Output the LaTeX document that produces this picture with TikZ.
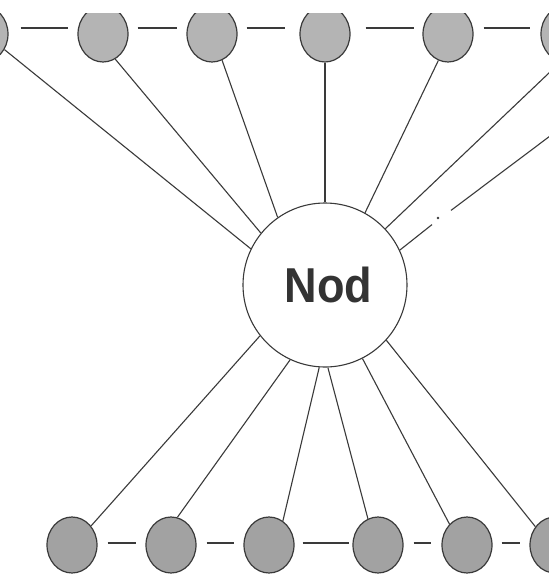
\documentclass[tikz,border=0pt]{standalone}
\usepackage{fontspec}
\setmainfont{Liberation Sans}
\usetikzlibrary{shapes.geometric,calc}
\definecolor{ink}{HTML}{3A3A3A}
\definecolor{labelink}{HTML}{333333}
\definecolor{topfill}{HTML}{B4B4B4}
\definecolor{botfill}{HTML}{A2A2A2}
\begin{document}
\begin{tikzpicture}[x=1pt,y=-1pt,
  leaf/.style={ellipse,draw=ink,line width=1.2pt,minimum width=50pt,minimum height=56pt,inner sep=0pt},
  topleaf/.style={leaf,fill=topfill},
  botleaf/.style={leaf,fill=botfill},
  hub/.style={circle,draw=ink,line width=1.1pt,minimum size=164pt,inner sep=0pt,fill=white},
  spoke/.style={draw=ink,line width=1.1pt},
  chain/.style={draw=ink,line width=1.8pt}]
\useasboundingbox (0,0) rectangle (549,574);
\fill[white] (0,0) rectangle (549,574);
\begin{scope}
\clip (0,13) rectangle (549,574);
% hub
\node[hub] (c) at (325,285) {};
\node[font=\bfseries\fontsize{49}{49}\selectfont,text=labelink,anchor=base,inner sep=0pt] (lbl) at (328.5,302) {\scalebox{0.92}[1]{Nod}};
% top row
\node[topleaf] (T0) at (-17,34) {};
\node[topleaf] (T1) at (103,34) {};
\node[topleaf] (T2) at (212,34) {};
\node[topleaf] (T3) at (325,34) {};
\node[topleaf] (T4) at (448,34) {};
\node[topleaf] (T5) at (566,34) {};
% bottom row
\node[botleaf] (B1) at (72,545) {};
\node[botleaf] (B2) at (171,545) {};
\node[botleaf] (B3) at (269,545) {};
\node[botleaf] (B4) at (378,545) {};
\node[botleaf] (B5) at (467,545) {};
\node[botleaf] (B6) at (555,545) {};
% free end of a spoke leaving the picture
\coordinate (G) at (590,106);
\coordinate (g1) at (432,224.6);
\coordinate (g2) at (451,210.4);
% top chain
\draw[chain,shorten <=12pt,shorten >=9pt] ([yshift=6pt]T0.east) -- ([yshift=6pt]T1.west);
\draw[chain,shorten <=9pt,shorten >=9pt] ([yshift=6pt]T1.east) -- ([yshift=6pt]T2.west);
\draw[chain,shorten <=9pt,shorten >=14pt] ([yshift=6pt]T2.east) -- ([yshift=6pt]T3.west);
\draw[chain,shorten <=15pt,shorten >=8pt] ([yshift=6pt]T3.east) -- ([yshift=6pt]T4.west);
\draw[chain,shorten <=10pt,shorten >=10pt] ([yshift=6pt]T4.east) -- ([yshift=6pt]T5.west);
% bottom chain
\draw[chain,shorten <=10pt,shorten >=9pt] ([yshift=2pt]B1.east) -- ([yshift=2pt]B2.west);
\draw[chain,shorten <=10pt,shorten >=9pt] ([yshift=2pt]B2.east) -- ([yshift=2pt]B3.west);
\draw[chain,shorten <=8pt,shorten >=3pt] ([yshift=2pt]B3.east) -- ([yshift=2pt]B4.west);
\draw[chain,shorten <=10pt,shorten >=10pt] ([yshift=2pt]B4.east) -- ([yshift=2pt]B5.west);
\draw[chain,shorten <=9pt,shorten >=9pt] ([yshift=2pt]B5.east) -- ([yshift=2pt]B6.west);
% top spokes
\draw[spoke] (c.154.4) -- (T0.-36);
\draw[spoke] (c.141) -- (T1.296.6);
\draw[spoke] (c.125.2) -- (T2.291);
\draw[spoke] (c.90) -- (T3.270);
\draw[spoke] (c.61.3) -- (T4.250.3);
\draw[spoke] (c.43.5) -- (T5.259.5);
\draw[spoke] (c.25.6) -- (g1);
\draw[spoke] (g2) -- (G);
\fill[ink] (438,218) circle (1.3pt);
% bottom spokes
\draw[spoke] (c.218.4) -- (B1.45);
\draw[spoke] (c.245.3) -- (B2.77.5);
\draw[spoke] (c.266.6) -- (B3.60.8);
\draw[spoke] (c.272.7) -- (B4.111.8);
\draw[spoke] (c.297.5) -- (B5.130.8);
\draw[spoke] (c.318.9) -- (B6.137.7);
\end{scope}
\end{tikzpicture}
\end{document}
